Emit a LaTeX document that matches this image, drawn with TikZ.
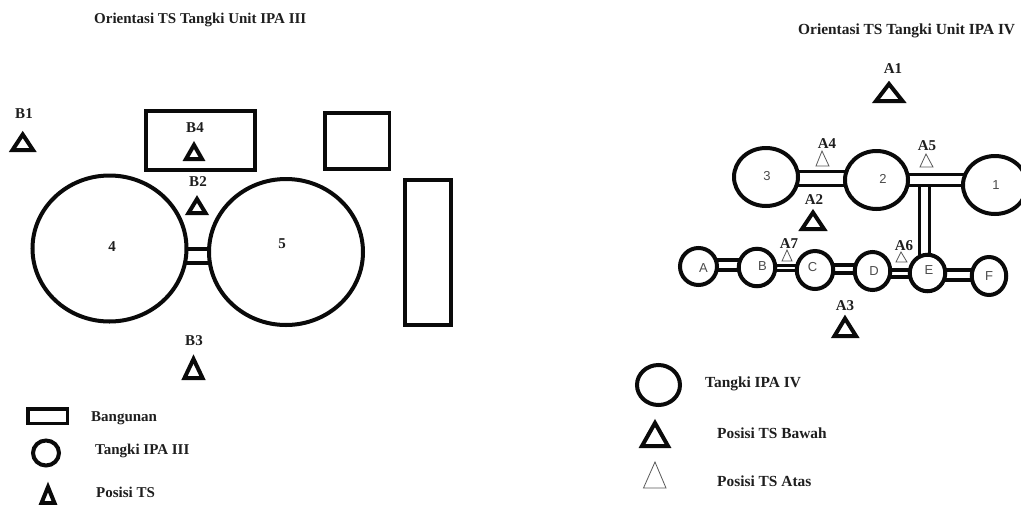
\documentclass[tikz,border=0pt]{standalone}
\usepackage{fontspec}
\setmainfont{Liberation Serif}
\newfontfamily\tanksans{Liberation Sans}
\usetikzlibrary{shapes.geometric,backgrounds}
\definecolor{ink}{HTML}{0A0A0A}
\definecolor{txt}{HTML}{1E1E1E}
\tikzset{
  tank/.style={draw=ink,ellipse,fill=white,inner sep=0pt,outer sep=0pt,line width=#1},
  tank/.default=4pt,
  bldg/.style={draw=ink,line width=#1,line join=miter},
  bldg/.default=4pt,
  pipe/.style={draw=ink,line width=3.2pt,double=white,double distance=#1},
  pipe/.default=7pt,
  tsbawah/.style={draw=ink,line width=4pt,line join=miter,fill=white},
  tsatas/.style={draw=black!65,line width=0.8pt,line join=miter},
  lbl/.style={font=\bfseries\fontsize{15}{16}\selectfont,text=txt,inner sep=0pt},
  ttl/.style={font=\bfseries\fontsize{15}{16}\selectfont,text=txt,inner sep=0pt,anchor=west},
  ttlb/.style={font=\bfseries\fontsize{15.4}{16}\selectfont,text=txt,inner sep=0pt,anchor=west},
  num/.style={font=\tanksans\fontsize{13}{14}\selectfont,text=black!70,inner sep=0pt},
}
\begin{document}
\begin{tikzpicture}[x=1pt,y=-1pt]
\clip (0,0) rectangle (1021,504);
\begin{scope}[on background layer]
\fill[white] (0,0) rectangle (1021,504);
\end{scope}
% titles
\node[ttl] (t1) at (94,19.5) {Orientasi TS Tangki Unit IPA III};
\node[ttlb] (t2) at (798,30.5) {Orientasi TS Tangki Unit IPA IV};
% left: buildings
\node[bldg,minimum width=109pt,minimum height=59pt,inner sep=0pt] (b1) at (200.5,140.5) {};
\node[bldg=3.5pt,minimum width=64.5pt,minimum height=56pt,inner sep=0pt] (b2) at (357,141) {};
\node[bldg,minimum width=46pt,minimum height=145pt,inner sep=0pt] (b3) at (428,252.5) {};
% left: tanks
\node[tank,minimum width=154pt,minimum height=146pt] (t4) at (109.5,248.5) {};
\node[tank,minimum width=154pt,minimum height=146pt] (t5) at (286,252) {};
\node[lbl] (n4) at (112,247) {4};
\node[lbl] (n5) at (282,244) {5};
\begin{scope}[on background layer]
\draw[pipe=10.8pt] ([yshift=-7.5pt]t4.center) -- ([yshift=-4pt]t5.center);
\end{scope}
% left: TS
\node[lbl] (B1) at (24,114) {B1};
\node[lbl] (B4) at (195,128) {B4};
\node[lbl] (B2) at (198,182) {B2};
\node[lbl] (B3) at (194,341) {B3};
\draw[tsbawah] (22.7,134.5) -- (33,150) -- (12.5,150) -- cycle;
\draw[tsbawah] (194,145) -- (202,159) -- (186,159) -- cycle;
\draw[tsbawah] (197,199) -- (205.5,213) -- (188.5,213) -- cycle;
\draw[tsbawah] (193.5,359) -- (202.5,378) -- (184.5,378) -- cycle;
% left legend
\node[bldg=3.5pt,minimum width=39.5pt,minimum height=14.5pt,inner sep=0pt] (lb) at (47.5,416) {};
\node[ttl] (lbt) at (91,418.5) {Bangunan};
\node[tank,minimum width=26pt,minimum height=25pt] (lt) at (46,453) {};
\node[ttl] (ltt) at (95,450.5) {Tangki IPA III};
\draw[tsbawah] (48,487) -- (54.5,503) -- (41.5,503) -- cycle;
\node[ttl] (lpt) at (96,492) {Posisi TS};
% right: tanks
\node[tank,minimum width=64pt,minimum height=58pt] (c3) at (766,177) {};
\node[tank,minimum width=63pt,minimum height=58pt] (c2) at (876.5,180) {};
\node[tank,minimum width=64pt,minimum height=58pt] (c1) at (995,185) {};
\node[tank,minimum width=37pt,minimum height=37pt] (cA) at (698.5,266.5) {};
\node[tank,minimum width=36.5pt,minimum height=37.5pt] (cB) at (757,267.5) {};
\node[tank,minimum width=36.5pt,minimum height=38pt] (cC) at (815,270) {};
\node[tank,minimum width=35.5pt,minimum height=38pt] (cD) at (872.5,271) {};
\node[tank,minimum width=35.5pt,minimum height=36.5pt] (cE) at (927.5,273) {};
\node[tank,minimum width=34.5pt,minimum height=38pt] (cF) at (989,276) {};
\coordinate (j) at (924.5,187);
\begin{scope}[on background layer]
\draw[pipe=7.5pt] (j) -- (j |- cE.center);
\draw[pipe=10.8pt] ([yshift=-1.7pt]c3.center) -- ([yshift=1.3pt]c2.center);
\draw[pipe=8.5pt] ([yshift=0pt]c2.center) -- ([yshift=5pt]c1.center);
\draw[pipe=6.8pt] ([yshift=1.5pt]cA.center) -- ([yshift=2.5pt]cB.center);
\draw[pipe=1.3pt] ([yshift=-0.5pt]cB.center) -- ([yshift=2pt]cC.center);
\draw[pipe=4.8pt] ([yshift=1pt]cC.center) -- ([yshift=2pt]cD.center);
\draw[pipe=3.8pt] ([yshift=-2.5pt]cD.center) -- ([yshift=-0.5pt]cE.center);
\draw[pipe=6.8pt] ([yshift=-2pt]cE.center) -- ([yshift=1pt]cF.center);
\end{scope}
\node[num] (n3) at (767,176) {3};
\node[num] (n2) at (883,179) {2};
\node[num] (n1) at (996,185) {1};
\node[num] (nA) at (703.5,268.5) {A};
\node[num] (nB) at (762.5,266.5) {B};
\node[num] (nC) at (812.5,267.5) {C};
\node[num] (nD) at (874,271.5) {D};
\node[num] (nE) at (929,270) {E};
\node[num] (nF) at (989,276) {F};
% right: TS
\node[lbl] (A1) at (893,69) {A1};
\node[lbl] (A2) at (814,200) {A2};
\node[lbl] (A3) at (845,306) {A3};
\node[lbl] (A4) at (827,144) {A4};
\node[lbl] (A5) at (927,146) {A5};
\node[lbl] (A6) at (904,245.5) {A6};
\node[lbl] (A7) at (789,243.5) {A7};
\draw[tsbawah] (889,84) -- (902.5,101) -- (876,101) -- cycle;
\draw[tsbawah] (813,212.5) -- (824,229) -- (802,229) -- cycle;
\draw[tsbawah] (845,318.5) -- (856,336) -- (834.5,336) -- cycle;
\draw[tsatas] (822,151) -- (829,166) -- (816,166) -- cycle;
\draw[tsatas] (926,154) -- (933,167) -- (920,167) -- cycle;
\draw[tsatas] (901,252) -- (907,262) -- (896,262) -- cycle;
\draw[tsatas] (787,250) -- (792,261) -- (782,261) -- cycle;
% right legend
\node[tank,minimum width=43pt,minimum height=40pt] (lc) at (658.5,385) {};
\node[ttlb] (lct) at (705,383.5) {Tangki IPA IV};
\draw[tsbawah] (655,423) -- (668,446) -- (642,446) -- cycle;
\node[ttlb] (lbw) at (717,433) {Posisi TS Bawah};
\draw[tsatas] (655,462) -- (666,488) -- (643.5,488) -- cycle;
\node[ttlb] (lat) at (717,481) {Posisi TS Atas};
\end{tikzpicture}
\end{document}
